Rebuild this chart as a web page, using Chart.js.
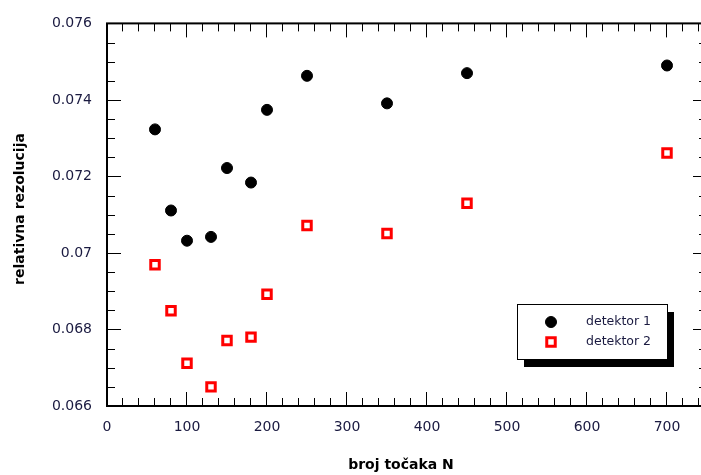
<!DOCTYPE html>
<html>
<head>
<meta charset="utf-8">
<script src="https://cdn.jsdelivr.net/npm/chart.js@4/dist/chart.umd.min.js"></script>
<style>
  html, body { margin: 0; padding: 0; background: #ffffff; overflow: hidden; }
  #wrap { width: 720px; height: 475px; }
  canvas { display: block; }
</style>
</head>
<body>
<div id="wrap"><canvas id="c" width="720" height="475"></canvas></div>
<script>
// ---- data ----
const categoriesN = [60, 80, 100, 130, 150, 180, 200, 250, 350, 450, 700];
const detektor1 = [0.07323, 0.07111, 0.07032, 0.07042, 0.07222, 0.07184, 0.07374, 0.07463, 0.07391, 0.07470, 0.07490];
const detektor2 = [0.06969, 0.06849, 0.06712, 0.06650, 0.06771, 0.06780, 0.06892, 0.07072, 0.07051, 0.07130, 0.07261];
const seriesLabels = ['detektor 1', 'detektor 2'];

const xTickValues = [0, 100, 200, 300, 400, 500, 600, 700];
const xTickLabels = ['0', '100', '200', '300', '400', '500', '600', '700'];
const yTickValues = [0.066, 0.068, 0.070, 0.072, 0.074, 0.076];
const yTickLabels = ['0.066', '0.068', '0.07', '0.072', '0.074', '0.076'];
const xRange = [0, 750];
const yRange = [0.066, 0.076];
const xMinorStep = 20;
const yMinorStep = 0.0005;
const xTitle = 'broj točaka N';
const yTitle = 'relativna rezolucija';

// ---- styling ----
const FONT = "'DejaVu Sans', Verdana, sans-serif";
const TXT = '#1a1a40';

const frameTicks = {
  id: 'frameTicks',
  beforeDatasetsDraw(chart) {
    const { ctx, chartArea: a, scales } = chart;
    const xs = scales.x, ys = scales.y;
    ctx.save();
    ctx.strokeStyle = '#000';
    ctx.lineWidth = 1;
    ctx.beginPath();
    const nx = Math.round((xRange[1] - xRange[0]) / xMinorStep);
    for (let i = 0; i <= nx; i++) {
      const v = xRange[0] + i * xMinorStep;
      const major = Math.abs(v / 100 - Math.round(v / 100)) < 1e-9;
      const len = major ? 14 : 8;
      const p = Math.round(xs.getPixelForValue(v)) - 0.5;
      ctx.moveTo(p, a.bottom); ctx.lineTo(p, a.bottom - len);
      ctx.moveTo(p, a.top); ctx.lineTo(p, a.top + len);
    }
    const ny = Math.round((yRange[1] - yRange[0]) / yMinorStep);
    for (let i = 0; i <= ny; i++) {
      const v = yRange[0] + i * yMinorStep;
      const major = i % 4 === 0;
      const len = major ? 14 : 8;
      const p = Math.round(ys.getPixelForValue(v)) + 0.5;
      ctx.moveTo(a.left, p); ctx.lineTo(a.left + len, p);
      ctx.moveTo(a.right, p); ctx.lineTo(a.right - len, p);
    }
    ctx.stroke();
    ctx.lineWidth = 2;
    ctx.strokeRect(a.left, a.top, a.right - a.left, a.bottom - a.top);
    ctx.restore();
  },
  afterDraw(chart) {
    const { ctx } = chart;
    ctx.save();
    // axis titles
    ctx.fillStyle = '#000';
    ctx.font = 'bold 14px ' + FONT;
    ctx.textAlign = 'center';
    ctx.textBaseline = 'alphabetic';
    ctx.fillText(xTitle, 401, 469);
    ctx.translate(24, 209);
    ctx.rotate(-Math.PI / 2);
    ctx.fillText(yTitle, 0, 0);
    ctx.restore();

    // legend
    ctx.save();
    const bx = 517, by = 304, bw = 150, bh = 55;
    ctx.fillStyle = '#000';
    ctx.fillRect(bx + 7, by + 8, bw, bh);
    ctx.fillStyle = '#fff';
    ctx.fillRect(bx, by, bw, bh);
    ctx.strokeStyle = '#000';
    ctx.lineWidth = 1;
    ctx.strokeRect(bx + 0.5, by + 0.5, bw, bh);
    const ds = chart.data.datasets;
    const rows = [322, 342];
    ds.forEach((d, i) => {
      const cy = rows[i], cx = 551;
      ctx.beginPath();
      if (d.pointStyle === 'rect') {
        const s = Math.SQRT1_2 * d.pointRadius;
        ctx.rect(cx - s, cy - s, 2 * s, 2 * s);
        ctx.fillStyle = d.pointBackgroundColor;
        ctx.fill();
        ctx.lineWidth = d.pointBorderWidth;
        ctx.strokeStyle = d.pointBorderColor;
        ctx.stroke();
      } else {
        ctx.arc(cx, cy, d.pointRadius, 0, Math.PI * 2);
        ctx.fillStyle = d.pointBackgroundColor;
        ctx.fill();
        ctx.lineWidth = d.pointBorderWidth;
        ctx.strokeStyle = d.pointBorderColor;
        ctx.stroke();
      }
      ctx.fillStyle = TXT;
      ctx.font = '12.5px ' + FONT;
      ctx.textAlign = 'left';
      ctx.textBaseline = 'middle';
      ctx.fillText(d.label, 586, cy);
    });
    ctx.restore();
  }
};

new Chart(document.getElementById('c'), {
  type: 'scatter',
  data: {
    datasets: [
      {
        label: seriesLabels[0],
        data: categoriesN.map((n, i) => ({ x: n, y: detektor1[i] })),
        pointStyle: 'circle',
        pointRadius: 5.5,
        pointBorderWidth: 1,
        pointBackgroundColor: '#000000',
        pointBorderColor: '#000000',
        showLine: false
      },
      {
        label: seriesLabels[1],
        data: categoriesN.map((n, i) => ({ x: n, y: detektor2[i] })),
        pointStyle: 'rect',
        pointRadius: 6,
        pointBorderWidth: 3,
        pointBackgroundColor: '#ffffff',
        pointBorderColor: '#ff0000',
        showLine: false
      }
    ]
  },
  options: {
    responsive: false,
    animation: false,
    devicePixelRatio: 1,
    layout: { padding: { left: 0, top: 18, right: 13, bottom: 0 } },
    plugins: { legend: { display: false }, tooltip: { enabled: false } },
    scales: {
      x: {
        type: 'linear',
        min: xRange[0], max: xRange[1],
        grid: { display: false, drawTicks: false },
        border: { display: false },
        afterBuildTicks: (s) => { s.ticks = xTickValues.map(v => ({ value: v })); },
        afterFit: (s) => { s.height = 69; },
        ticks: {
          padding: 13,
          color: TXT,
          font: { family: FONT, size: 14 },
          maxRotation: 0,
          autoSkip: false,
          callback: (v, i) => xTickLabels[i]
        }
      },
      y: {
        type: 'linear',
        min: yRange[0], max: yRange[1],
        grid: { display: false, drawTicks: false },
        border: { display: false },
        afterBuildTicks: (s) => { s.ticks = yTickValues.map(v => ({ value: v })); },
        afterFit: (s) => { s.width = 107; },
        ticks: {
          padding: 15,
          color: TXT,
          font: { family: FONT, size: 14 },
          autoSkip: false,
          callback: (v, i) => yTickLabels[i]
        }
      }
    }
  },
  plugins: [frameTicks]
});
</script>
</body>
</html>
